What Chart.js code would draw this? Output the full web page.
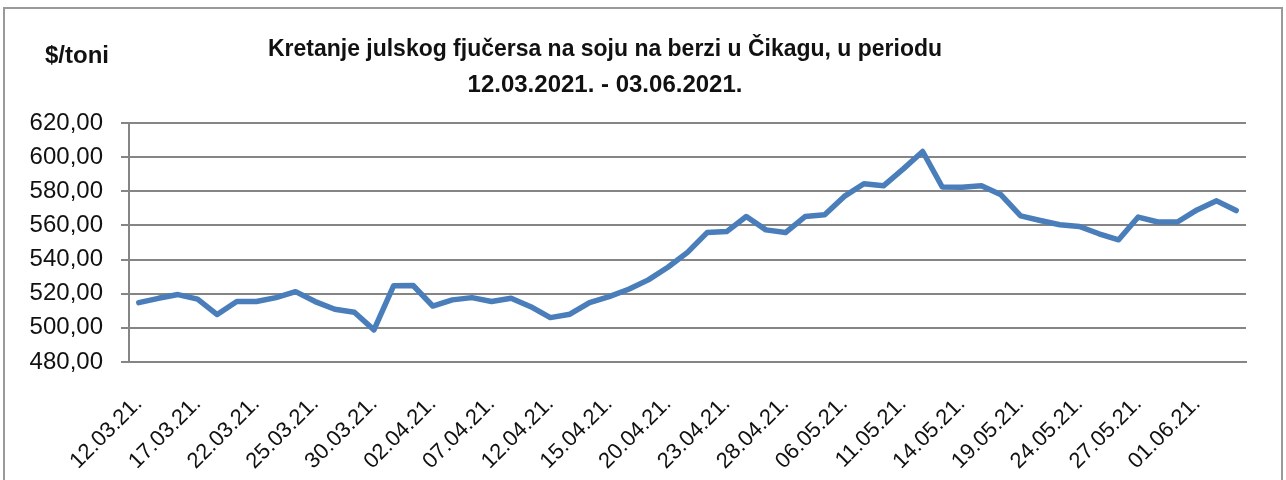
<!DOCTYPE html>
<html>
<head>
<meta charset="utf-8">
<script src="https://cdn.jsdelivr.net/npm/chart.js@4.4.1/dist/chart.umd.min.js"></script>
<style>
  body { margin: 0; background: #fff; }
  #wrap { position: relative; width: 1286px; height: 480px; }
</style>
</head>
<body>
<div id="wrap"><canvas id="soy_chart"></canvas></div>
<script>
// trading days shown on the x axis (every third one gets a label)
const dates = [
    '12.03.21.', '15.03.21.', '16.03.21.', '17.03.21.', '18.03.21.', '19.03.21.',
    '22.03.21.', '23.03.21.', '24.03.21.', '25.03.21.', '26.03.21.', '29.03.21.',
    '30.03.21.', '31.03.21.', '01.04.21.', '02.04.21.', '05.04.21.', '06.04.21.',
    '07.04.21.', '08.04.21.', '09.04.21.', '12.04.21.', '13.04.21.', '14.04.21.',
    '15.04.21.', '16.04.21.', '19.04.21.', '20.04.21.', '21.04.21.', '22.04.21.',
    '23.04.21.', '26.04.21.', '27.04.21.', '28.04.21.', '29.04.21.', '05.05.21.',
    '06.05.21.', '07.05.21.', '10.05.21.', '11.05.21.', '12.05.21.', '13.05.21.',
    '14.05.21.', '17.05.21.', '18.05.21.', '19.05.21.', '20.05.21.', '21.05.21.',
    '24.05.21.', '25.05.21.', '26.05.21.', '27.05.21.', '28.05.21.', '31.05.21.',
    '01.06.21.', '02.06.21.', '03.06.21.'
];

// July soybean futures, $/ton
const prices = [
    514.8, 517.3, 519.5, 516.8, 507.8, 515.4,
    515.4, 517.7, 521.2, 515.4, 510.9, 509.1,
    498.8, 524.6, 524.8, 512.8, 516.4, 517.7,
    515.4, 517.3, 512.4, 506.0, 508.0, 514.8,
    518.3, 522.6, 528.1, 535.5, 544.2, 555.8,
    556.4, 565.2, 557.4, 555.8, 565.2, 566.2,
    577.0, 584.4, 583.2, 593.0, 603.3, 582.5,
    582.4, 583.2, 577.9, 565.6, 562.9, 560.4,
    559.4, 555.1, 551.6, 564.9, 562.0, 562.0,
    569.1, 574.4, 568.7
];

const yMin = 480;
const yMax = 620;
const yStep = 20;

const titleLines = [
    'Kretanje julskog fjučersa na soju na berzi u Čikagu, u periodu',
    '12.03.2021. - 03.06.2021.'
];
const unitLabel = '$/toni';

const gridColor = '#858585';

// frame + title texts, drawn straight on the canvas
const headerPlugin = {
    id: 'header',
    beforeDraw(chart) {
        const ctx = chart.ctx;
        ctx.save();
        ctx.fillStyle = '#fff';
        ctx.fillRect(0, 0, chart.width, chart.height);
        ctx.strokeStyle = '#9a9a9a';
        ctx.lineWidth = 2;
        ctx.strokeRect(4, 8, chart.width - 8, chart.height + 10);
        ctx.restore();
    },
    afterDraw(chart) {
        const ctx = chart.ctx;
        ctx.save();
        ctx.fillStyle = '#111';
        ctx.textBaseline = 'alphabetic';
        ctx.font = 'bold 24px "Liberation Sans", Arial, sans-serif';
        ctx.textAlign = 'left';
        ctx.fillText(unitLabel, 45, 63, 70);
        ctx.textAlign = 'center';
        ctx.fillText(titleLines[0], 605, 56, 674);
        ctx.fillText(titleLines[1], 605, 92, 286);
        ctx.restore();
    }
};

function initChart() {
    const ctx = document.getElementById('soy_chart').getContext('2d');
    const chart = new Chart(ctx, {
        type: 'line',
        data: {
            labels: dates,
            datasets: [{
                label: 'Jul fjučers',
                data: prices,
                borderColor: '#4a7ebb',
                backgroundColor: '#4a7ebb',
                borderWidth: 5.5,
                borderJoinStyle: 'round',
                borderCapStyle: 'round',
                pointRadius: 0,
                tension: 0
            }]
        },
        options: {
            responsive: true,
            maintainAspectRatio: false,
            animation: false,
            layout: {
                padding: { top: 123, right: 40, left: 0, bottom: 0 }
            },
            plugins: {
                legend: { display: false },
                title: { display: false },
                tooltip: { enabled: false }
            },
            scales: {
                x: {
                    offset: true,
                    grid: { display: false, drawTicks: false },
                    border: { display: true, color: gridColor, width: 2 },
                    ticks: {
                        autoSkip: false,
                        minRotation: 45,
                        maxRotation: 45,
                        padding: 29,
                        color: '#111',
                        font: { family: '"Liberation Sans", Arial, sans-serif', size: 22 },
                        callback: function(value, index) {
                            return index % 3 === 0 ? dates[index] : '';
                        }
                    },
                    afterFit: function(scale) {
                        scale.height = 118;
                    }
                },
                y: {
                    min: yMin,
                    max: yMax,
                    grid: {
                        color: gridColor,
                        lineWidth: 2,
                        tickLength: 8,
                        tickColor: gridColor,
                        tickWidth: 2
                    },
                    border: { display: true, color: gridColor, width: 2 },
                    ticks: {
                        stepSize: yStep,
                        padding: 18,
                        color: '#111',
                        font: { family: '"Liberation Sans", Arial, sans-serif', size: 24 },
                        callback: function(value) {
                            return value.toFixed(2).replace('.', ',');
                        }
                    },
                    afterFit: function(scale) {
                        scale.width = 129;
                    }
                }
            }
        },
        plugins: [headerPlugin]
    });
}

initChart();
</script>
</body>
</html>
